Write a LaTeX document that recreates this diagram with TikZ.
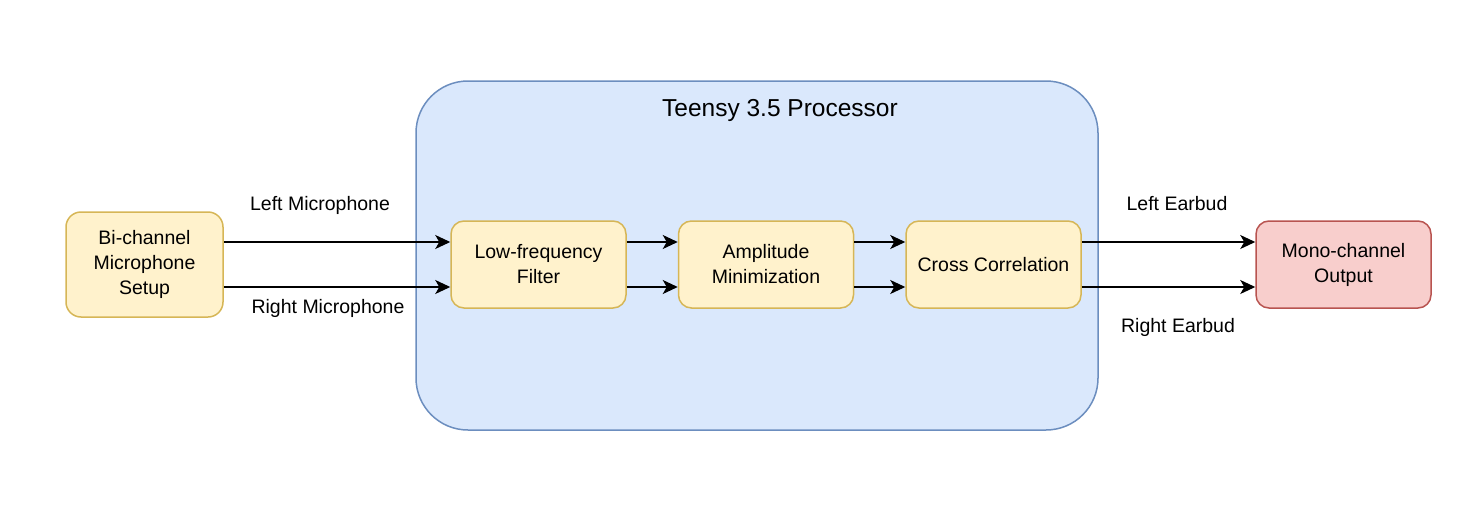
\documentclass[tikz,border=0pt]{standalone}
\usepackage{fontspec}
\setmainfont{Liberation Sans}
\usetikzlibrary{arrows.meta,positioning}
\definecolor{ylfill}{HTML}{FFF2CC}
\definecolor{yldraw}{HTML}{D6B656}
\definecolor{blfill}{HTML}{DAE8FC}
\definecolor{bldraw}{HTML}{6C8EBF}
\definecolor{rdfill}{HTML}{F8CECC}
\definecolor{rddraw}{HTML}{B85450}
\tikzstyle{stage}=[draw=yldraw, fill=ylfill, line width=1.5pt, align=center,
    minimum width=175pt, minimum height=87pt, rounded corners=13pt,
    font=\fontsize{19.5}{25}\selectfont]
\tikzstyle{source}=[stage, minimum width=157pt, minimum height=105pt,
    rounded corners=15pt]
\tikzstyle{output}=[stage, draw=rddraw, fill=rdfill]
\tikzstyle{processor}=[draw=bldraw, fill=blfill, line width=1.5pt,
    minimum width=682pt, minimum height=349pt, rounded corners=52pt]
\tikzstyle{lbl}=[font=\fontsize{19.5}{25}\selectfont]
\tikzstyle{signal}=[-{Stealth[length=15pt,width=14pt,inset=4pt]}, line width=1.5pt]

\begin{document}
\begin{tikzpicture}[x=1pt,y=-1pt]
    \useasboundingbox (0,0) rectangle (1478,506);
    \node (teensy) [processor] at (757,255.5) {};
    \node[font=\fontsize{24.5}{30}\selectfont] (title) at (780,110) {Teensy 3.5 Processor};
    \node (mic) [source] at (144.5,264.5) {Bi-channel\\Microphone\\Setup};
    \node (lf) [stage] at (538.5,264.5) {Low-frequency\\Filter};
    \node (am) [stage] at (766,264.5) {Amplitude\\Minimization};
    \node (cc) [stage] at (993.5,264.5) {Cross Correlation};
    \node (mono) [output] at (1343.5,264.5) {Mono-channel\\Output};
    \node (leftmic) [lbl] at (320,205) {Left Microphone};
    \node (rightmic) [lbl] at (328,308) {Right Microphone};
    \node (leftear) [lbl] at (1177,204) {Left Earbud};
    \node (rightear) [lbl] at (1178,327) {Right Earbud};
    \foreach \a/\b in {mic/lf,lf/am,am/cc,cc/mono}
    {
      \draw [signal] ([yshift=22.5pt]\a.east) -- ([yshift=22.5pt]\b.west);
      \draw [signal] ([yshift=-22.5pt]\a.east) -- ([yshift=-22.5pt]\b.west);
    }
\end{tikzpicture}
\end{document}
